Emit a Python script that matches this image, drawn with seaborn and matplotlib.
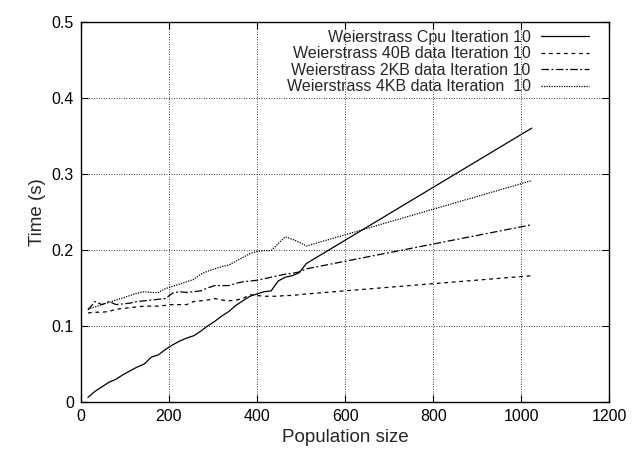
import pandas as pd
import matplotlib
matplotlib.use("Agg")
import matplotlib.pyplot as plt
import seaborn as sns
import numpy as np

sns.set_style("ticks")
plt.rcParams['font.family'] = ['Liberation Sans', 'DejaVu Sans']

pop = [16, 32, 48, 64, 80, 96, 112, 128, 144, 160, 176, 192, 208, 224, 240, 256,
       272, 288, 304, 320, 336, 352, 368, 384, 400, 416, 432, 448, 464, 480, 496, 512, 1024]

cpu = [0.006, 0.014, 0.020, 0.026, 0.030, 0.036, 0.041, 0.046, 0.050, 0.059, 0.062,
       0.069, 0.075, 0.080, 0.084, 0.087, 0.093, 0.100, 0.106, 0.113, 0.119, 0.127,
       0.133, 0.139, 0.142, 0.145, 0.146, 0.159, 0.164, 0.166, 0.170, 0.182, 0.360]

d40b = [0.117, 0.118, 0.118, 0.119, 0.122, 0.123, 0.124, 0.125, 0.126, 0.126, 0.126,
        0.127, 0.128, 0.128, 0.128, 0.132, 0.133, 0.134, 0.136, 0.134, 0.133, 0.134,
        0.136, 0.141, 0.140, 0.139, 0.139, 0.139, 0.140, 0.140, 0.141, 0.142, 0.166]

d2kb = [0.121, 0.132, 0.128, 0.132, 0.128, 0.129, 0.130, 0.132, 0.133, 0.134, 0.135,
        0.136, 0.143, 0.145, 0.144, 0.145, 0.146, 0.150, 0.153, 0.153, 0.153, 0.156,
        0.158, 0.159, 0.160, 0.162, 0.164, 0.166, 0.168, 0.169, 0.171, 0.175, 0.233]

d4kb = [0.122, 0.125, 0.128, 0.131, 0.134, 0.137, 0.140, 0.143, 0.145, 0.144, 0.144,
        0.149, 0.152, 0.155, 0.158, 0.161, 0.168, 0.172, 0.175, 0.178, 0.180, 0.185,
        0.190, 0.195, 0.198, 0.199, 0.199, 0.208, 0.217, 0.214, 0.210, 0.205, 0.291]

labels = ["Weierstrass Cpu Iteration 10",
          "Weierstrass 40B data Iteration 10",
          "Weierstrass 2KB data Iteration 10",
          "Weierstrass 4KB data Iteration  10"]

frames = []
for lab, vals in zip(labels, [cpu, d40b, d2kb, d4kb]):
    frames.append(pd.DataFrame({"pop": pop, "time": vals, "series": lab}))
df = pd.concat(frames, ignore_index=True)

dashes = {labels[0]: "", labels[1]: (3, 3), labels[2]: (6, 2, 1.5, 2), labels[3]: (1, 1)}

fig = plt.figure(figsize=(6.32, 4.55), dpi=100)
ax = fig.add_axes([0.128, 0.1165, 0.836, 0.836])
sns.lineplot(data=df, x="pop", y="time", style="series", dashes=dashes,
             color="black", linewidth=0.9, ax=ax)

ax.set_xlim(0, 1200)
ax.set_ylim(0, 0.5)
ax.set_xticks(np.arange(0, 1201, 200))
ax.set_yticks(np.arange(0, 0.51, 0.1))
ax.set_yticklabels(["0", "0.1", "0.2", "0.3", "0.4", "0.5"])
ax.grid(True, color="black", linestyle=(0, (1, 2)), linewidth=0.6)
ax.tick_params(direction="in", top=True, right=True, length=5, labelsize=11.5,
               colors="black", pad=5)
for s in ax.spines.values():
    s.set_visible(True)
    s.set_linewidth(1.0)
    s.set_color("black")
ax.set_xlabel("Population size", fontsize=13.5)
ax.set_ylabel("Time (s)", fontsize=13.5)

leg = ax.legend(loc="upper right", bbox_to_anchor=(0.973, 0.995), frameon=False,
                markerfirst=False, fontsize=11.5, handlelength=3.0, handletextpad=0.63,
                labelspacing=0.09, borderaxespad=0)

fig.savefig("out.png", dpi=100)
